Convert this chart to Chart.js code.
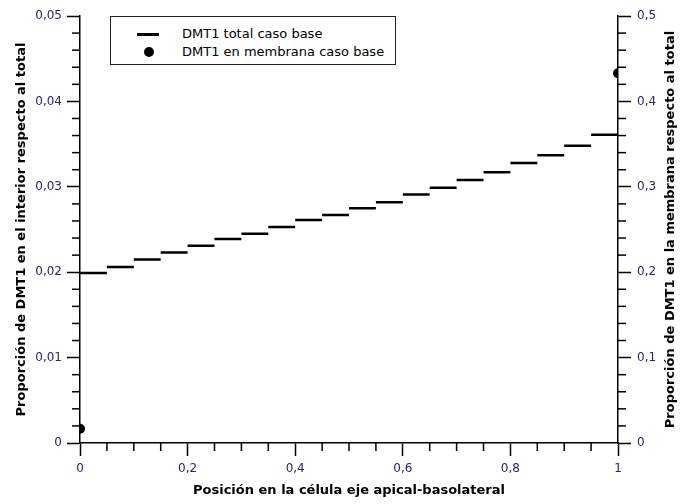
<!DOCTYPE html>
<html><head><meta charset="utf-8">
<script src="https://cdn.jsdelivr.net/npm/chart.js@4.4.0/dist/chart.umd.min.js"></script>
<style>
html,body{margin:0;padding:0;background:#fff;}
#wrap{position:relative;width:681px;height:504px;overflow:hidden;}
canvas{display:block;}
#legend{position:absolute;left:110px;top:16px;width:286px;height:49px;border:1px solid #222;box-sizing:border-box;background:#fff;font-family:'DejaVu Sans',sans-serif;font-size:13px;color:#000;}
#legend .row{position:absolute;left:0;height:18px;line-height:18px;white-space:nowrap;}
#legend .txt{position:absolute;left:71px;top:0;}
#legend .sw-line{position:absolute;left:26px;top:8px;width:22px;height:3px;background:#000;}
#legend .sw-dot{position:absolute;left:33px;top:4px;width:10px;height:10px;border-radius:50%;background:#000;}
</style>
</head><body>
<div id="wrap">
<canvas id="c" width="681" height="504"></canvas>
<div id="legend"></div>
</div>
<script>
// ---- data ----
const segmentEdges = [0,0.05,0.1,0.15,0.2,0.25,0.3,0.35,0.4,0.45,0.5,0.55,0.6,0.65,0.7,0.75,0.8,0.85,0.9,0.95,1];
const totalValues = [0.0199,0.0206,0.0215,0.0223,0.0231,0.0239,0.0245,0.0253,0.0261,0.0267,0.0275,0.0282,0.0291,0.0299,0.0308,0.0317,0.0328,0.0337,0.0348,0.0361];
const membranePositions = [0, 1];
const membraneValues = [0.0166, 0.433];
const seriesLabels = ['DMT1 total caso base', 'DMT1 en membrana caso base'];
const xTitle = 'Posición en la célula eje apical-basolateral';
const yTitle = 'Proporción de DMT1 en el interior respecto al total';
const y2Title = 'Proporción de DMT1 en la membrana respecto al total';

// ---- build datasets ----
const stepData = [];
totalValues.forEach((v, i) => {
  stepData.push({x: segmentEdges[i], y: v});
  stepData.push({x: segmentEdges[i + 1], y: v});
  stepData.push({x: segmentEdges[i + 1], y: null});
});
const dotData = membranePositions.map((x, i) => ({x, y: membraneValues[i]}));

const FAM = "'DejaVu Sans', sans-serif";
const TICK_COLOR = '#26266a';
const fmt = v => (Math.round(v * 1000) / 1000).toString().replace('.', ',');
const isMult = (v, step) => Math.abs(v / step - Math.round(v / step)) < 1e-6;

const majorStep = {x: 0.2, y: 0.01, y2: 0.1};

function axis(id, pos, min, max, step, titleText, titlePad, tickPad, fitFn, showTitle) {
  return {
    type: 'linear', position: pos, min, max,
    ticks: {
      stepSize: step, autoSkip: false, maxRotation: 0, padding: tickPad,
      color: TICK_COLOR, font: {family: FAM, size: 12},
      callback: v => isMult(v, majorStep[id]) ? fmt(v) : ''
    },
    grid: {
      drawOnChartArea: false, drawTicks: true, tickLength: 13, tickWidth: 1.5,
      tickColor: ctx => (ctx.tick && isMult(ctx.tick.value, majorStep[id])) ? '#000' : 'rgba(0,0,0,0)'
    },
    border: {display: true, color: '#000', width: 1.5},
    title: {display: showTitle, text: titleText, color: '#000',
            font: {family: FAM, size: 13, weight: 'bold'}, padding: titlePad},
    afterFit: fitFn
  };
}

const minorTicks = {
  id: 'minorTicks',
  beforeDatasetDraw(chart) {
    const a = chart.chartArea, ctx = chart.ctx;
    ctx.save();
    ctx.beginPath();
    ctx.rect(a.left, a.top, a.right - a.left, a.bottom - a.top);
    ctx.clip();
  },
  afterDatasetDraw(chart) { chart.ctx.restore(); },
  afterDraw(chart) {
    const ctx = chart.ctx, a = chart.chartArea;
    ctx.save();
    ctx.strokeStyle = '#000';
    ctx.lineWidth = 1.5;
    const len = 8;
    ['x', 'y', 'y2'].forEach(id => {
      const s = chart.scales[id];
      s.ticks.forEach(t => {
        if (isMult(t.value, majorStep[id])) return;
        const p = s.getPixelForValue(t.value);
        ctx.beginPath();
        if (id === 'x') { ctx.moveTo(p, a.bottom); ctx.lineTo(p, a.bottom + len); }
        else if (id === 'y') { ctx.moveTo(a.left, p); ctx.lineTo(a.left - len, p); }
        else { ctx.moveTo(a.right, p); ctx.lineTo(a.right + len, p); }
        ctx.stroke();
      });
    });
    // right axis title, reading bottom-to-top like the left one
    const s2 = chart.scales.y2;
    ctx.fillStyle = '#000';
    ctx.font = "bold 13px " + FAM;
    ctx.textAlign = 'center';
    ctx.textBaseline = 'middle';
    ctx.translate(s2.right - 10, (a.top + a.bottom) / 2);
    ctx.rotate(-Math.PI / 2);
    ctx.fillText(s2.options.title.text, 0, 0);
    ctx.restore();
  }
};

const chart = new Chart(document.getElementById('c'), {
  type: 'line',
  data: {
    datasets: [
      {label: seriesLabels[0], data: stepData, borderColor: '#000', borderWidth: 2.5,
       pointRadius: 0, spanGaps: false, xAxisID: 'x', yAxisID: 'y'},
      {label: seriesLabels[1], data: dotData, showLine: false, pointRadius: 5,
       pointBackgroundColor: '#000', pointBorderColor: '#000', pointBorderWidth: 0,
       xAxisID: 'x', yAxisID: 'y2'}
    ]
  },
  options: {
    responsive: false, animation: false,
    layout: {padding: {top: 16, left: 0, right: 0, bottom: 0}},
    plugins: {legend: {display: false}, tooltip: {enabled: false}},
    scales: {
      x: axis('x', 'bottom', 0, 1, 0.05, xTitle, {top: 0, bottom: 6}, 6, s => { s.height = 61; }, true),
      y: axis('y', 'left', 0, 0.05, 0.002, yTitle, {top: 14, bottom: 0}, 5, s => { s.width = 80; }, true),
      y2: axis('y2', 'right', 0, 0.5, 0.02, y2Title, {top: 2, bottom: 0}, 6, s => { s.width = 63; }, false)
    }
  },
  plugins: [minorTicks]
});

// ---- legend built from the chart's datasets ----
const leg = document.getElementById('legend');
chart.data.datasets.forEach((ds, i) => {
  const row = document.createElement('div');
  row.className = 'row';
  row.style.top = (8 + i * 18) + 'px';
  row.style.width = '100%';
  const sw = document.createElement('span');
  sw.className = ds.showLine === false ? 'sw-dot' : 'sw-line';
  const tx = document.createElement('span');
  tx.className = 'txt';
  tx.textContent = ds.label;
  row.appendChild(sw); row.appendChild(tx);
  leg.appendChild(row);
});
</script>
</body></html>
